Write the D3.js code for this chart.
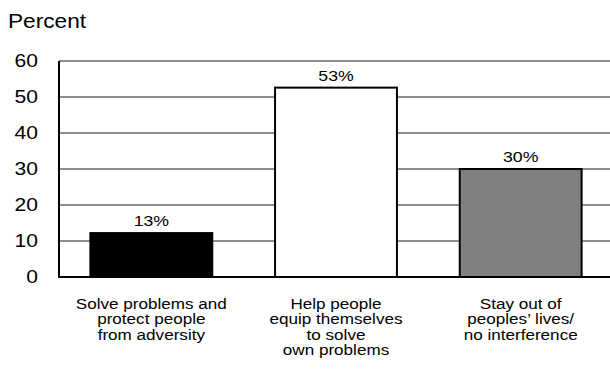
<!DOCTYPE html>
<html><head><meta charset="utf-8">
<script src="https://cdn.jsdelivr.net/npm/d3@7"></script>
<style>body{margin:0;background:#fff;}svg{display:block;font-family:"Liberation Sans",Arial,Helvetica,sans-serif;}</style>
</head><body>
<svg id="c" width="610" height="372"></svg>
<script>
const categories = [
  ["Solve problems and","protect people","from adversity"],
  ["Help people","equip themselves","to solve","own problems"],
  ["Stay out of","peoples\u2019 lives/","no interference"]
];
const values = [12.2, 52.6, 30];
const valueLabels = ["13%","53%","30%"];
const fills = ["#000000","#ffffff","#808080"];
const yTicks = [0,10,20,30,40,50,60];

const svg = d3.select("#c");
const x = d3.scaleBand().domain(d3.range(categories.length)).range([59, 613]).paddingInner(0.34).paddingOuter(0.17);
const y = d3.scaleLinear().domain([0,60]).range([277, 61]);

// gridlines
svg.append("g").selectAll("line").data(yTicks.filter(d=>d>0)).join("line")
  .attr("x1",59).attr("x2",610).attr("y1",d=>y(d)).attr("y2",d=>y(d))
  .attr("stroke","#8c8c8c").attr("stroke-width",2);

// y axis
const sxT = 1.14;
const yAxis = d3.axisLeft(y).tickValues(yTicks).tickSize(0);
const gy = svg.append("g").attr("transform","translate(59,0)").call(yAxis);
gy.select(".domain").remove();
gy.selectAll("text").attr("font-size",18.5).attr("fill","#000").attr("dy","0.3em")
  .attr("x",-21/sxT).attr("transform",`scale(${sxT},1)`)
  .attr("font-family","Liberation Sans, Arial, sans-serif");
svg.append("line").attr("x1",59).attr("x2",59).attr("y1",y(60)).attr("y2",y(0)+1).attr("stroke","#000").attr("stroke-width",2);

// bars
svg.append("g").selectAll("rect").data(values).join("rect")
  .attr("x",(d,i)=>x(i)).attr("width",x.bandwidth())
  .attr("y",d=>y(d)).attr("height",d=>y(0)-y(d))
  .attr("fill",(d,i)=>fills[i]).attr("stroke","#000").attr("stroke-width",2);

// baseline
svg.append("line").attr("x1",58).attr("x2",610).attr("y1",y(0)).attr("y2",y(0)).attr("stroke","#000").attr("stroke-width",2);

// value labels
svg.append("g").selectAll("text").data(values).join("text")
  .attr("transform",(d,i)=>`translate(${x(i)+x.bandwidth()/2},${y(d)-7}) scale(1.18,1)`)
  .attr("text-anchor","middle").attr("font-size",15).text((d,i)=>valueLabels[i]);

// category labels
const xl = svg.append("g").selectAll("text").data(categories).join("text")
  .attr("text-anchor","middle").attr("font-size",15)
  .attr("transform",(d,i)=>`translate(${x(i)+x.bandwidth()/2},309) scale(1.14,1)`);
xl.selectAll("tspan").data(d=>d).join("tspan")
  .attr("x",0).attr("y",(d,j)=>j*15.3).text(d=>d);

// y title
svg.append("text").attr("transform","translate(8,28) scale(1.08,1)").attr("font-size",21).text("Percent");
</script>
</body></html>
